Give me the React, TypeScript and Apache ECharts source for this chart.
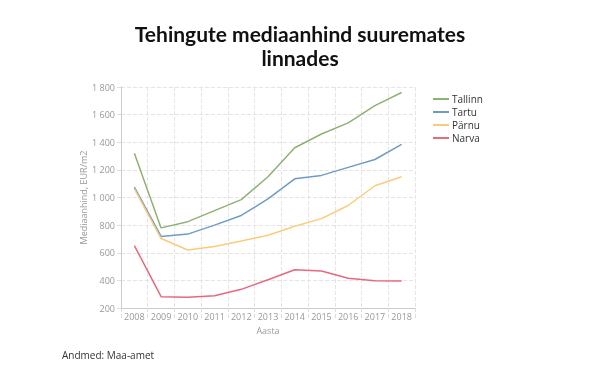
import React, { useEffect, useRef } from "react";
import * as echarts from "echarts";

const years = ["2008", "2009", "2010", "2011", "2012", "2013", "2014", "2015", "2016", "2017", "2018"];
const tallinn = [1320, 780, 825, 905, 985, 1150, 1360, 1460, 1540, 1665, 1760];
const tartu = [1075, 718, 735, 800, 870, 990, 1135, 1160, 1218, 1275, 1385];
const parnu = [1062, 703, 620, 645, 685, 727, 792, 847, 942, 1085, 1150];
const narva = [652, 282, 278, 288, 335, 405, 477, 468, 415, 398, 395];
const seriesNames = ["Tallinn", "Tartu", "Pärnu", "Narva"];
const seriesColors = ["#8fb173", "#6e9cc4", "#fdca7c", "#e8687c"];
const titleLines = ["Tehingute mediaanhind suuremates", "linnades"];

const FONT = "'Open Sans', 'Noto Sans', sans-serif";
const TITLE_FONT = "Lato, 'Open Sans', sans-serif";

export default function App() {
  const ref = useRef<HTMLDivElement>(null);
  useEffect(() => {
    if (!ref.current) return;
    const chart = echarts.init(ref.current, undefined, { renderer: "svg" });
    const data = [tallinn, tartu, parnu, narva];
    chart.setOption({
      animation: false,
      textStyle: { fontFamily: FONT },
      title: titleLines.map((t, i) => ({
        text: t,
        left: "center",
        top: 23 + i * 24,
        padding: 0,
        textStyle: { fontSize: 21, fontWeight: "bold", color: "#111", lineHeight: 21, fontFamily: TITLE_FONT },
      })),
      legend: {
        orient: "vertical",
        left: 428,
        top: 89,
        itemWidth: 16,
        itemHeight: 2,
        itemGap: 3,
        icon: "rect",
        textStyle: { fontSize: 10, color: "#333", padding: [0, 0, 0, -2] },
        data: seriesNames,
      },
      grid: { left: 121, right: 185, top: 87, bottom: 73 },
      xAxis: {
        type: "category",
        data: years,
        boundaryGap: true,
        name: "Aasta",
        nameLocation: "middle",
        nameGap: 17,
        nameTextStyle: { color: "#999", fontSize: 9 },
        axisLine: { lineStyle: { color: "#ccc" } },
        axisTick: { show: true, length: 12, interval: 0, lineStyle: { color: "#ddd", type: "dashed" } },
        axisLabel: { color: "#999", fontSize: 9, margin: 4, interval: 0 },
        splitLine: { show: true, interval: 0, lineStyle: { color: "#e4e4e4", type: "dashed" } },
      },
      yAxis: {
        type: "value",
        min: 200,
        max: 1800,
        interval: 200,
        name: "Mediaanhind, EUR/m2",
        nameLocation: "middle",
        nameGap: 28,
        nameTextStyle: { color: "#999", fontSize: 9 },
        axisLine: { show: true, lineStyle: { color: "#ccc" } },
        axisTick: { show: true, length: 4, lineStyle: { color: "#ddd", type: "dashed" } },
        axisLabel: {
          color: "#999",
          fontSize: 9,
          margin: 6,
          formatter: (v: number) => String(v).replace(/\B(?=(\d{3})+(?!\d))/g, " "),
        },
        splitLine: { show: true, lineStyle: { color: "#e4e4e4", type: "dashed" } },
      },
      series: seriesNames.map((name, i) => ({
        name,
        type: "line",
        data: data[i],
        symbol: "none",
        color: seriesColors[i],
        lineStyle: { width: 1.5, color: seriesColors[i] },
      })),
      graphic: [
        {
          type: "text",
          left: 62,
          top: 350,
          style: { text: "Andmed: Maa-amet", fontSize: 10, fill: "#333", fontFamily: FONT },
        },
      ],
    });
    return () => chart.dispose();
  }, []);
  return <div ref={ref} style={{ position: "fixed", left: 0, top: 0, width: 600, height: 381 }} />;
}
